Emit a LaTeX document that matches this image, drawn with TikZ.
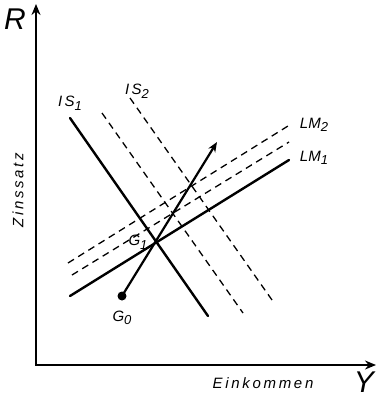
\documentclass[tikz,border=0pt]{standalone}
\usepackage{fontspec}
\setsansfont{Liberation Sans}
\usetikzlibrary{arrows.meta,positioning}

% lowered index for the curve names
\newcommand{\lowidx}[1]{\raisebox{-0.45ex}{\fontsize{13}{13}\selectfont #1}}

\begin{document}
\begin{tikzpicture}[
        x=1pt, y=-1pt,
        axis/.style={line width=2.4pt, {Stealth[length=11pt,width=9pt]}-{Stealth[length=11pt,width=9pt]}},
        curve/.style={line width=2.4pt, line cap=round},
        shifted/.style={line width=1.3pt, dash pattern=on 7pt off 5pt},
        move/.style={line width=2.2pt, -{Stealth[length=10pt,width=8pt]}},
        lbl/.style={font=\sffamily\itshape\fontsize{15}{15}\selectfont, inner sep=1pt},
        axislbl/.style={font=\sffamily\itshape\fontsize{30}{30}\selectfont, inner sep=0pt},
        axistitle/.style={font=\sffamily\itshape\fontsize{15}{15}\selectfont\addfontfeature{LetterSpace=18}, inner sep=0pt}
    ]
    \useasboundingbox (0,0) rectangle (377,399);

    % --- Achsen ---
    \coordinate (O) at (36,365);
    \coordinate (top) at (36,4);
    \coordinate (right) at (376,365);
    \draw[axis] (top) -- (O) -- (right);
    \node[axislbl] (R) at (15,19) {R};
    \node[axislbl] (Y) at (364,382) {Y};
    \node[axistitle, rotate=90] (zins) at (18,190) {Zinssatz};
    \node[axistitle] (eink) at (263,383) {Einkommen};

    % --- IS-Kurven ---
    \coordinate (is1a) at (70,118);
    \coordinate (is1b) at (208,316);
    \coordinate (ismida) at (102,113);
    \coordinate (ismidb) at (243,313);
    \coordinate (is2a) at (130,98);
    \coordinate (is2b) at (272,300);
    \draw[curve] (is1a) -- (is1b);
    \draw[shifted] (ismida) -- (ismidb);
    \draw[shifted] (is2a) -- (is2b);
    \node[lbl] (is1lbl) at (70,103) {I\,S\lowidx{1}};
    \node[lbl] (is2lbl) at (137,91) {I\,S\lowidx{2}};

    % --- LM-Kurven ---
    \coordinate (lm1a) at (70,296);
    \coordinate (lm1b) at (289,160);
    \coordinate (lmmida) at (72,275);
    \coordinate (lmmidb) at (289,142);
    \coordinate (lm2a) at (68,263);
    \coordinate (lm2b) at (288,126);
    \draw[curve] (lm1a) -- (lm1b);
    \draw[shifted] (lmmida) -- (lmmidb);
    \draw[shifted] (lm2a) -- (lm2b);
    \node[lbl] (lm1lbl) at (314,158) {LM\lowidx{1}};
    \node[lbl] (lm2lbl) at (314,125) {LM\lowidx{2}};

    % --- Gleichgewichte ---
    \coordinate (G0) at (122,296);
    \coordinate (goal) at (217,142);
    \fill (G0) circle (4.5pt);
    \draw[move] (G0) -- (goal);
    \node[lbl] (g0lbl) at (122,318) {G\lowidx{0}};
    \node[lbl] (g1lbl) at (138,242) {G\lowidx{1}};
\end{tikzpicture}
\end{document}
